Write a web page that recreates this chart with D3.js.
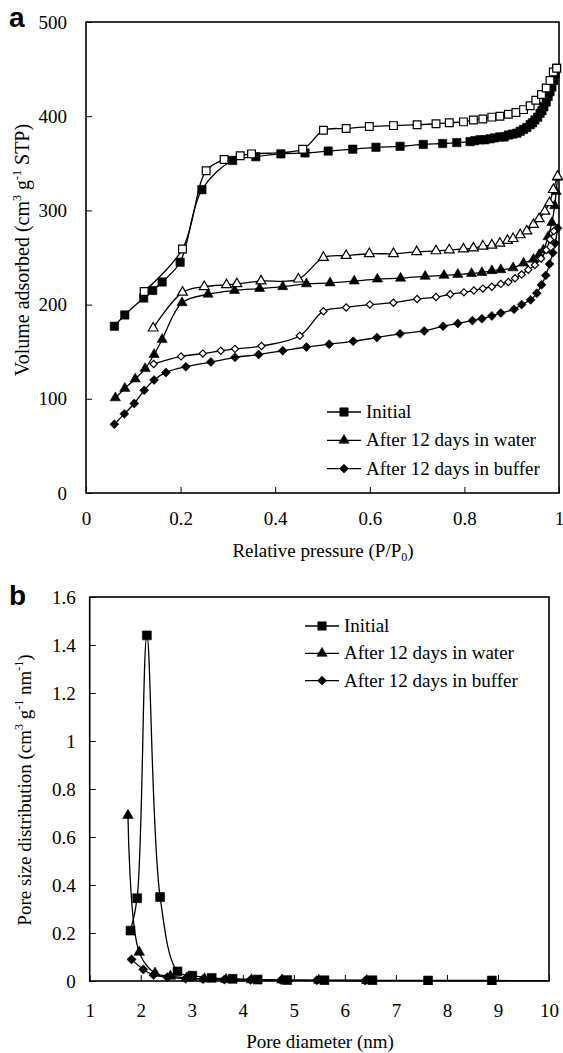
<!DOCTYPE html>
<html>
<head>
<meta charset="utf-8">
<script src="https://cdn.jsdelivr.net/npm/d3@7/dist/d3.min.js"></script>
<style>
body{margin:0;background:#fff}
svg text{font-family:"Liberation Serif","DejaVu Serif",serif !important;fill:#000}
svg text.lbl{font-family:"Liberation Sans",Arial,sans-serif !important}
</style>
</head>
<body>
<svg id="fig" width="563" height="1053" font-family="Liberation Serif, serif"></svg>
<script>
// ---- panel a : isotherms (P/P0 , cm3/g) ----
var iniAdsX = [0.060,0.082,0.122,0.141,0.161,0.199,0.245,0.310,0.359,0.412,0.463,0.512,0.564,0.613,0.664,0.713,0.754,0.784,0.812,0.822,0.833,0.843,0.854,0.864,0.875,0.884,0.893,0.902,0.911,0.918,0.925,0.932,0.939,0.944,0.949,0.955,0.960,0.964,0.968,0.973,0.977,0.981,0.985,0.989,0.992,0.995];
var iniAdsY = [177,189,207,215,224,245,322,353,357,360,361,363,365,367,368,370,371,372,373,374,375,375,376,377,378,378,380,381,382,384,386,388,391,393,396,399,403,406,410,415,421,426,431,438,445,451];
var iniDesX = [0.123,0.204,0.254,0.292,0.326,0.350,0.458,0.502,0.550,0.599,0.650,0.700,0.740,0.768,0.798,0.819,0.839,0.858,0.875,0.893,0.909,0.925,0.939,0.951,0.963,0.973,0.981,0.988,0.995];
var iniDesY = [214,259,342,354,358,360,365,385,387,389,390,391,392,393,394,396,397,399,400,402,404,407,411,417,423,430,438,447,451];

var watAdsX = [0.062,0.082,0.104,0.125,0.144,0.161,0.203,0.258,0.314,0.367,0.416,0.466,0.516,0.567,0.616,0.665,0.717,0.757,0.786,0.815,0.837,0.858,0.877,0.903,0.925,0.946,0.958,0.967,0.977,0.985,0.991,0.994,0.997];
var watAdsY = [101,111,121,132,147,163,202,211,215,217,219,222,223,225,227,228,230,231,232,233,234,236,237,239,244,248,253,258,272,287,305,320,335];
var watDesX = [0.142,0.204,0.250,0.297,0.319,0.370,0.449,0.502,0.550,0.599,0.650,0.699,0.740,0.768,0.798,0.819,0.839,0.858,0.875,0.891,0.903,0.918,0.932,0.946,0.958,0.970,0.980,0.988,0.997];
var watDesY = [175,213,219,221,222,225,227,250,252,254,254,256,257,258,259,260,262,263,265,268,270,274,278,285,291,299,308,322,336];

var bufAdsX = [0.060,0.081,0.102,0.123,0.144,0.169,0.211,0.264,0.315,0.365,0.416,0.466,0.514,0.565,0.615,0.664,0.715,0.755,0.786,0.817,0.837,0.858,0.877,0.905,0.921,0.940,0.953,0.963,0.972,0.980,0.987,0.992,0.997];
var bufAdsY = [73,84,95,109,120,128,134,139,144,147,151,155,158,161,165,169,172,177,180,183,185,188,191,195,200,205,212,221,231,243,255,265,281];
var bufDesX = [0.143,0.201,0.247,0.285,0.315,0.371,0.452,0.502,0.550,0.600,0.650,0.700,0.740,0.770,0.799,0.820,0.839,0.858,0.877,0.893,0.907,0.921,0.935,0.949,0.962,0.973,0.981,0.989];
var bufDesY = [137,145,148,151,153,156,167,193,197,200,202,206,208,211,213,215,217,219,222,224,228,232,237,242,249,258,269,278];

var xTicksA = [0,0.2,0.4,0.6,0.8,1];
var yTicksA = [0,100,200,300,400,500];

// ---- panel b : pore size distribution (nm , cm3/g/nm) ----
var psdIniX = [1.80,1.93,2.12,2.38,2.72,3.01,3.39,3.80,4.29,4.87,5.60,6.54,7.63,8.88,10.3];
var psdIniY = [0.21,0.345,1.44,0.35,0.04,0.022,0.013,0.009,0.006,0.004,0.003,0.003,0.002,0.002,0.001];
var psdWatX = [1.75,1.97,2.28,2.58,2.90,3.25,3.67,4.17,4.77,5.49,6.43];
var psdWatY = [0.69,0.12,0.033,0.02,0.012,0.009,0.006,0.005,0.004,0.003,0.002];
var psdBufX = [1.82,2.05,2.25,2.52,2.88,3.22,3.64,4.15,4.75,5.45,6.40];
var psdBufY = [0.09,0.048,0.025,0.016,0.01,0.008,0.006,0.005,0.004,0.003,0.002];

var xTicksB = [1,2,3,4,5,6,7,8,9,10];
var yTicksB = [0,0.2,0.4,0.6,0.8,1,1.2,1.4,1.6];

var legendNames = ["Initial","After 12 days in water","After 12 days in buffer"];

var svg = d3.select("#fig");

var shapes = {
  square: d3.symbol().type(d3.symbolSquare),
  triangle: d3.symbol().type(d3.symbolTriangle),
  diamond: d3.symbol().type(d3.symbolSquare)
};

function marker(g, shape, size, filled, x, y) {
  var p = g.append("path")
    .attr("d", shapes[shape].size(size)())
    .attr("fill", filled ? "#000" : "#fff")
    .attr("stroke", "#000")
    .attr("stroke-width", filled ? 0.6 : 1.2);
  var tr = "translate(" + x + "," + y + ")";
  if (shape == "diamond") tr += " rotate(45)";
  p.attr("transform", tr);
}

function series(g, x, y, xs, ys, shape, size, filled) {
  var pts = xs.map(function(d, i) { return [x(d), y(ys[i])]; });
  g.append("path")
    .attr("d", d3.line().curve(d3.curveCatmullRom.alpha(0.5))(pts))
    .attr("fill", "none").attr("stroke", "#000").attr("stroke-width", 1.3);
  pts.forEach(function(p) { marker(g, shape, size, filled, p[0], p[1]); });
}

function frame(x, y, xt, yt, fmt, padX, padY) {
  var g = svg.append("g");
  g.append("g").attr("transform", "translate(0," + y.range()[0] + ")")
    .call(d3.axisBottom(x).tickValues(xt).tickSize(-6).tickPadding(padX).tickFormat(fmt))
    .call(function(a) { a.attr("font-family", null).attr("font-size", null); a.select(".domain").remove(); a.selectAll("text").attr("font-size", 19); a.selectAll("line").attr("stroke-width", 1); });
  g.append("g").attr("transform", "translate(" + x.range()[0] + ",0)")
    .call(d3.axisLeft(y).tickValues(yt).tickSize(-6).tickPadding(padY).tickFormat(fmt))
    .call(function(a) { a.attr("font-family", null).attr("font-size", null); a.select(".domain").remove(); a.selectAll("text").attr("font-size", 19); a.selectAll("line").attr("stroke-width", 1); });
  g.append("rect")
    .attr("x", x.range()[0]).attr("y", y.range()[1])
    .attr("width", x.range()[1] - x.range()[0]).attr("height", y.range()[0] - y.range()[1])
    .attr("fill", "none").attr("stroke", "#000").attr("stroke-width", 1.6);
}

function legend(lx, ly, gap, sizes) {
  var g = svg.append("g");
  var kinds = ["square","triangle","diamond"];
  legendNames.forEach(function(n, i) {
    var yy = ly + i * gap;
    g.append("line").attr("x1", lx).attr("x2", lx + 34).attr("y1", yy).attr("y2", yy)
      .attr("stroke", "#000").attr("stroke-width", 1.3);
    marker(g, kinds[i], sizes[i], true, lx + 17, yy);
    g.append("text").attr("x", lx + 39).attr("y", yy + 6).attr("font-size", 19).text(n);
  });
}

var fmt = function(d) { return String(+d.toFixed(1)); };

// ---------- panel a ----------
var xa = d3.scaleLinear().domain([0, 1]).range([86, 559]);
var ya = d3.scaleLinear().domain([0, 500]).range([493, 22]);
frame(xa, ya, xTicksA, yTicksA, fmt, 19, 19);

var ga = svg.append("g");
series(ga, xa, ya, iniAdsX, iniAdsY, "square", 70, true);
series(ga, xa, ya, iniDesX, iniDesY, "square", 60, false);
series(ga, xa, ya, watAdsX, watAdsY, "triangle", 45, true);
series(ga, xa, ya, watDesX, watDesY, "triangle", 42, false);
series(ga, xa, ya, bufAdsX, bufAdsY, "diamond", 40, true);
series(ga, xa, ya, bufDesX, bufDesY, "diamond", 26, false);

legend(327, 412, 28.3, [70, 45, 40]);

svg.append("text").attr("class", "lbl").attr("x", 9).attr("y", 27).attr("font-size", 28)
  .attr("font-weight", "bold").text("a");

var tA = svg.append("text").attr("x", 323).attr("y", 557).attr("font-size", 19).attr("text-anchor", "middle");
tA.append("tspan").text("Relative pressure (P/P");
tA.append("tspan").attr("font-size", 12).attr("dy", 4).text("0");
tA.append("tspan").attr("dy", -4).text(")");

var yA = svg.append("text").attr("transform", "translate(29,250) rotate(-90)").attr("font-size", 20).attr("text-anchor", "middle");
yA.append("tspan").text("Volume adsorbed (cm");
yA.append("tspan").attr("font-size", 12).attr("dy", -8).text("3");
yA.append("tspan").attr("dy", 8).text(" g");
yA.append("tspan").attr("font-size", 12).attr("dy", -8).text("-1");
yA.append("tspan").attr("dy", 8).text(" STP)");

// ---------- panel b ----------
var xb = d3.scaleLinear().domain([1, 10]).range([89.7, 549]);
var yb = d3.scaleLinear().domain([0, 1.6]).range([981, 597]);
frame(xb, yb, xTicksB, yTicksB, fmt, 23, 14);

svg.append("clipPath").attr("id", "clipb").append("rect")
  .attr("x", 89.7).attr("y", 590).attr("width", 549 - 89.7).attr("height", 395);
var gb = svg.append("g").attr("clip-path", "url(#clipb)");
series(gb, xb, yb, psdBufX, psdBufY, "diamond", 42, true);
series(gb, xb, yb, psdWatX, psdWatY, "triangle", 48, true);
series(gb, xb, yb, psdIniX, psdIniY, "square", 80, true);

legend(305, 626, 27.3, [70, 45, 40]);

svg.append("text").attr("class", "lbl").attr("x", 9).attr("y", 605).attr("font-size", 28)
  .attr("font-weight", "bold").text("b");

svg.append("text").attr("x", 320).attr("y", 1048).attr("font-size", 19).attr("text-anchor", "middle")
  .text("Pore diameter (nm)");

var yB = svg.append("text").attr("transform", "translate(31,790) rotate(-90)").attr("font-size", 19).attr("text-anchor", "middle");
yB.append("tspan").text("Pore size distribution (cm");
yB.append("tspan").attr("font-size", 12).attr("dy", -8).text("3");
yB.append("tspan").attr("dy", 8).text(" g");
yB.append("tspan").attr("font-size", 12).attr("dy", -8).text("-1");
yB.append("tspan").attr("dy", 8).text(" nm");
yB.append("tspan").attr("font-size", 12).attr("dy", -8).text("-1");
yB.append("tspan").attr("dy", 8).text(")");
</script>
</body>
</html>
